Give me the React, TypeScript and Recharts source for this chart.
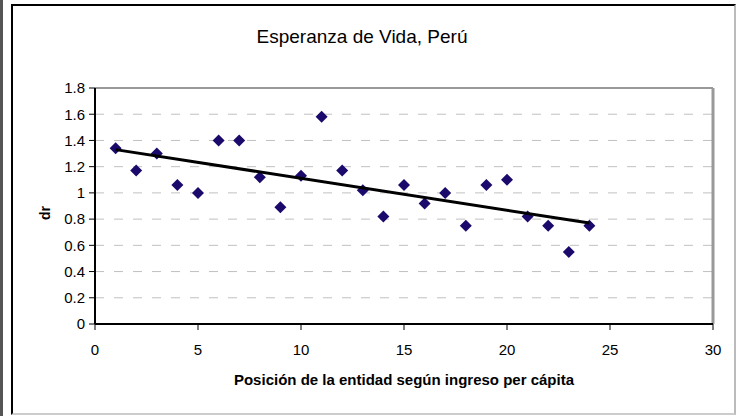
import { ScatterChart, Scatter, XAxis, YAxis, CartesianGrid, ReferenceLine } from 'recharts'

const positions = [1, 2, 3, 4, 5, 6, 7, 8, 9, 10, 11, 12, 13, 14, 15, 16, 17, 18, 19, 20, 21, 22, 23, 24]
const drValues = [1.34, 1.17, 1.3, 1.06, 1.0, 1.4, 1.4, 1.12, 0.89, 1.13, 1.58, 1.17, 1.02, 0.82, 1.06, 0.92, 1.0, 0.75, 1.06, 1.1, 0.82, 0.75, 0.55, 0.75]
const trendX = [1, 24]
const trendY = [1.33, 0.77]
const xTicks = [0, 5, 10, 15, 20, 25, 30]
const yTicks = [0, 0.2, 0.4, 0.6, 0.8, 1, 1.2, 1.4, 1.6, 1.8]

const points = positions.map((x, i) => ({ x, y: drValues[i] }))
const trend = trendX.map((x, i) => ({ x, y: trendY[i] }))

const FONT = '"Liberation Sans", Arial, sans-serif'

const Diamond = (props: any) => {
    const { cx, cy } = props
    if (cx == null || cy == null) return null
    const r = 6
    return (
        <polygon
            points={`${cx},${cy - r} ${cx + r},${cy} ${cx},${cy + r} ${cx - r},${cy}`}
            fill="#1b0a6b"
        />
    )
}

export default function App() {
    return (
        <div style={{ position: 'absolute', left: 0, top: 0, width: 737, height: 416, background: '#fff' }}>
            <div style={{ position: 'absolute', left: 0, top: 0, width: 3, height: 416, background: '#555' }} />
            <div
                style={{
                    position: 'absolute',
                    left: 11,
                    top: 4,
                    width: 721,
                    height: 407,
                    borderLeft: '2px solid #000',
                    borderTop: '2px solid #000',
                    borderRight: '2px solid #bbb',
                    borderBottom: '2px solid #ccc',
                }}
            />
            <ScatterChart
                width={737}
                height={416}
                margin={{ top: 88, right: 24, bottom: 62, left: 55 }}
                style={{ position: 'absolute', left: 0, top: 0 }}
            >
                <CartesianGrid vertical={false} stroke="#c0c0c0" strokeDasharray="9 10" />
                <XAxis
                    type="number"
                    dataKey="x"
                    domain={[0, 30]}
                    ticks={xTicks}
                    height={30}
                    axisLine={{ stroke: '#000', strokeWidth: 2 }}
                    tickLine={{ stroke: '#000' }}
                    tickSize={6}
                    tickMargin={14}
                    tick={{ fill: '#000', fontSize: 15, fontFamily: FONT }}
                />
                <YAxis
                    type="number"
                    dataKey="y"
                    domain={[0, 1.8]}
                    ticks={yTicks}
                    width={40}
                    axisLine={{ stroke: '#000', strokeWidth: 2 }}
                    tickLine={{ stroke: '#000' }}
                    tickSize={6}
                    tickMargin={4}
                    tick={{ fill: '#000', fontSize: 15, fontFamily: FONT }}
                />
                <ReferenceLine y={1.8} stroke="#999" strokeWidth={2} />
                <ReferenceLine x={30} stroke="#999" strokeWidth={3} />
                <Scatter data={points} shape={Diamond} isAnimationActive={false} />
                <Scatter
                    data={trend}
                    line={{ stroke: '#000', strokeWidth: 3 }}
                    shape={() => null}
                    isAnimationActive={false}
                />
            </ScatterChart>
            <div
                style={{
                    position: 'absolute',
                    left: 162,
                    width: 400,
                    top: 26,
                    textAlign: 'center',
                    fontFamily: FONT,
                    fontSize: 19,
                    color: '#000',
                }}
            >
                Esperanza de Vida, Perú
            </div>
            <div
                style={{
                    position: 'absolute',
                    left: 154,
                    width: 500,
                    top: 371,
                    textAlign: 'center',
                    fontFamily: FONT,
                    fontWeight: 'bold',
                    fontSize: 15,
                    color: '#000',
                }}
            >
                Posición de la entidad según ingreso per cápita
            </div>
            <div
                style={{
                    position: 'absolute',
                    left: 45,
                    top: 213,
                    transform: 'translate(-50%, -50%) rotate(-90deg)',
                    fontFamily: FONT,
                    fontWeight: 'bold',
                    fontSize: 14,
                    color: '#000',
                }}
            >
                dr
            </div>
        </div>
    )
}
